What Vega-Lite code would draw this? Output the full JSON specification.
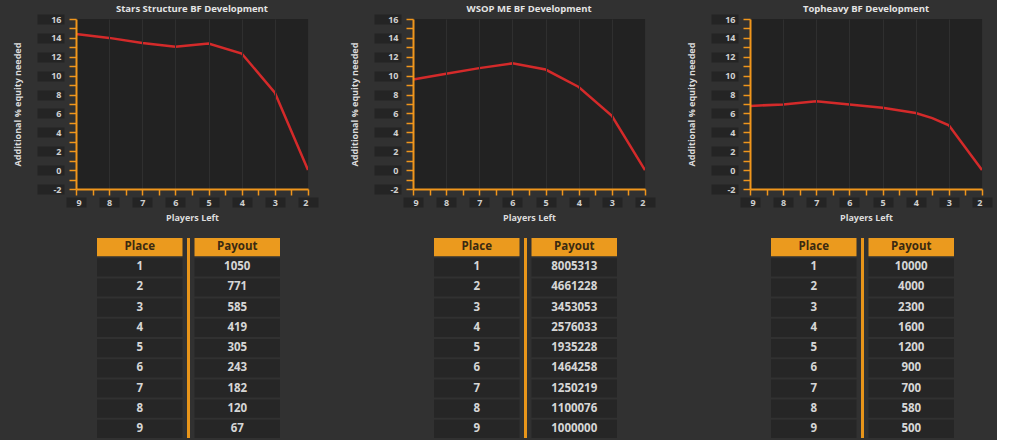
{
  "$schema": "https://vega.github.io/schema/vega-lite/v6.json",
  "background": "#313131",
  "padding": {"left": 13, "top": 3, "right": 5, "bottom": 0},
  "config": {
    "font": "Open Sans",
    "axis": {"labelFont": "Open Sans", "labelFontSize": 9, "labelFontWeight": "bold", "labelColor": "#d0d0d0", "titleFont": "Open Sans", "titleFontSize": 9, "titleFontWeight": "bold", "titleColor": "#dcdcdc", "domainColor": "#f0961c", "tickColor": "#f0961c", "gridColor": "#2f2f2f", "domainWidth": 2, "tickWidth": 1.5, "labelOverlap": false}
  },
  "datasets": {
    "lines": [
      {"chart": "stars", "players": 9, "value": 14.4},
      {"chart": "stars", "players": 8, "value": 14.0},
      {"chart": "stars", "players": 7, "value": 13.45},
      {"chart": "stars", "players": 6, "value": 13.05},
      {"chart": "stars", "players": 5, "value": 13.4},
      {"chart": "stars", "players": 4, "value": 12.35},
      {"chart": "stars", "players": 3, "value": 8.2},
      {"chart": "stars", "players": 2, "value": 0},
      {"chart": "wsop", "players": 9, "value": 9.6},
      {"chart": "wsop", "players": 8, "value": 10.2},
      {"chart": "wsop", "players": 7, "value": 10.8},
      {"chart": "wsop", "players": 6, "value": 11.3},
      {"chart": "wsop", "players": 5, "value": 10.65},
      {"chart": "wsop", "players": 4, "value": 8.8},
      {"chart": "wsop", "players": 3, "value": 5.75},
      {"chart": "wsop", "players": 2, "value": 0},
      {"chart": "top", "players": 9, "value": 6.8},
      {"chart": "top", "players": 8, "value": 6.95},
      {"chart": "top", "players": 7, "value": 7.3},
      {"chart": "top", "players": 6, "value": 6.95},
      {"chart": "top", "players": 5, "value": 6.6},
      {"chart": "top", "players": 4, "value": 6.05},
      {"chart": "top", "players": 3.5, "value": 5.5},
      {"chart": "top", "players": 3, "value": 4.75},
      {"chart": "top", "players": 2, "value": 0}
    ],
    "pay": [
      {"table": "stars", "row": "head", "Place": "Place", "Payout": "Payout"},
      {"table": "stars", "row": "1", "Place": "1", "Payout": "1050"},
      {"table": "stars", "row": "2", "Place": "2", "Payout": "771"},
      {"table": "stars", "row": "3", "Place": "3", "Payout": "585"},
      {"table": "stars", "row": "4", "Place": "4", "Payout": "419"},
      {"table": "stars", "row": "5", "Place": "5", "Payout": "305"},
      {"table": "stars", "row": "6", "Place": "6", "Payout": "243"},
      {"table": "stars", "row": "7", "Place": "7", "Payout": "182"},
      {"table": "stars", "row": "8", "Place": "8", "Payout": "120"},
      {"table": "stars", "row": "9", "Place": "9", "Payout": "67"},
      {"table": "wsop", "row": "head", "Place": "Place", "Payout": "Payout"},
      {"table": "wsop", "row": "1", "Place": "1", "Payout": "8005313"},
      {"table": "wsop", "row": "2", "Place": "2", "Payout": "4661228"},
      {"table": "wsop", "row": "3", "Place": "3", "Payout": "3453053"},
      {"table": "wsop", "row": "4", "Place": "4", "Payout": "2576033"},
      {"table": "wsop", "row": "5", "Place": "5", "Payout": "1935228"},
      {"table": "wsop", "row": "6", "Place": "6", "Payout": "1464258"},
      {"table": "wsop", "row": "7", "Place": "7", "Payout": "1250219"},
      {"table": "wsop", "row": "8", "Place": "8", "Payout": "1100076"},
      {"table": "wsop", "row": "9", "Place": "9", "Payout": "1000000"},
      {"table": "top", "row": "head", "Place": "Place", "Payout": "Payout"},
      {"table": "top", "row": "1", "Place": "1", "Payout": "10000"},
      {"table": "top", "row": "2", "Place": "2", "Payout": "4000"},
      {"table": "top", "row": "3", "Place": "3", "Payout": "2300"},
      {"table": "top", "row": "4", "Place": "4", "Payout": "1600"},
      {"table": "top", "row": "5", "Place": "5", "Payout": "1200"},
      {"table": "top", "row": "6", "Place": "6", "Payout": "900"},
      {"table": "top", "row": "7", "Place": "7", "Payout": "700"},
      {"table": "top", "row": "8", "Place": "8", "Payout": "580"},
      {"table": "top", "row": "9", "Place": "9", "Payout": "500"}
    ]
  },
  "columns": 3,
  "spacing": {"row": 49, "column": 105},
  "bounds": "flush",
  "concat": [
    {
      "width": 232, "height": 170,
      "view": {"fill": "#222222", "stroke": null},
      "title": {"text": "Stars Structure BF Development", "frame": "group", "anchor": "middle", "fontSize": 9.5, "fontWeight": "bold", "color": "#e4e4e4", "offset": 1, "font": "Open Sans"},
      "data": {"name": "lines"},
      "transform": [{"filter": "datum.chart === 'stars'"}],
      "layer": [
        {
          "mark": {"type": "line", "opacity": 0},
          "encoding": {
            "x": {"field": "players", "type": "quantitative", "scale": {"domain": [2, 9], "reverse": true, "nice": false, "zero": false},
              "axis": {"orient": "bottom", "values": [2, 3, 4, 5, 6, 7, 8, 9], "offset": 8, "domain": false, "labels": false, "grid": false, "tickSize": 10, "tickWidth": 20, "tickColor": "#242424", "title": null, "zindex": 0}},
            "y": {"field": "value", "type": "quantitative", "scale": {"domain": [-2, 16], "nice": false, "zero": false},
              "axis": {"orient": "left", "values": [-2, 0, 2, 4, 6, 8, 10, 12, 14, 16], "offset": 12, "domain": false, "labels": false, "grid": false, "tickSize": 27, "tickWidth": 10, "tickColor": "#242424", "title": null, "zindex": 0}}
          }
        },
        {
          "mark": {"type": "line", "color": "#d42a2a", "strokeWidth": 2.5},
          "encoding": {
            "x": {"field": "players", "type": "quantitative",
              "axis": {"orient": "bottom", "values": [2, 2.5, 3, 3.5, 4, 4.5, 5, 5.5, 6, 6.5, 7, 7.5, 8, 8.5, 9], "labelExpr": "datum.value % 1 === 0 ? '' + datum.value : ''", "tickSize": 6, "labelPadding": 7, "labelBaseline": "middle", "grid": true, "gridOpacity": {"condition": {"test": "datum.value % 1 === 0", "value": 1}, "value": 0}, "title": "Players Left", "titlePadding": 6, "zindex": 1}},
            "y": {"field": "value", "type": "quantitative",
              "axis": {"orient": "left", "values": [-2, -1, 0, 1, 2, 3, 4, 5, 6, 7, 8, 9, 10, 11, 12, 13, 14, 15, 16], "labelExpr": "datum.value % 2 === 0 ? '' + datum.value : ''", "tickSize": 7, "labelPadding": 8, "grid": false, "title": "Additional % equity needed", "titlePadding": 28, "zindex": 1}}
          }
        }
      ],
      "resolve": {"axis": {"x": "independent", "y": "independent"}}
    },
    {
      "width": 232, "height": 170,
      "view": {"fill": "#222222", "stroke": null},
      "title": {"text": "WSOP ME BF Development", "frame": "group", "anchor": "middle", "fontSize": 9.5, "fontWeight": "bold", "color": "#e4e4e4", "offset": 1, "font": "Open Sans"},
      "data": {"name": "lines"},
      "transform": [{"filter": "datum.chart === 'wsop'"}],
      "layer": [
        {
          "mark": {"type": "line", "opacity": 0},
          "encoding": {
            "x": {"field": "players", "type": "quantitative", "scale": {"domain": [2, 9], "reverse": true, "nice": false, "zero": false},
              "axis": {"orient": "bottom", "values": [2, 3, 4, 5, 6, 7, 8, 9], "offset": 8, "domain": false, "labels": false, "grid": false, "tickSize": 10, "tickWidth": 20, "tickColor": "#242424", "title": null, "zindex": 0}},
            "y": {"field": "value", "type": "quantitative", "scale": {"domain": [-2, 16], "nice": false, "zero": false},
              "axis": {"orient": "left", "values": [-2, 0, 2, 4, 6, 8, 10, 12, 14, 16], "offset": 12, "domain": false, "labels": false, "grid": false, "tickSize": 27, "tickWidth": 10, "tickColor": "#242424", "title": null, "zindex": 0}}
          }
        },
        {
          "mark": {"type": "line", "color": "#d42a2a", "strokeWidth": 2.5},
          "encoding": {
            "x": {"field": "players", "type": "quantitative",
              "axis": {"orient": "bottom", "values": [2, 2.5, 3, 3.5, 4, 4.5, 5, 5.5, 6, 6.5, 7, 7.5, 8, 8.5, 9], "labelExpr": "datum.value % 1 === 0 ? '' + datum.value : ''", "tickSize": 6, "labelPadding": 7, "labelBaseline": "middle", "grid": true, "gridOpacity": {"condition": {"test": "datum.value % 1 === 0", "value": 1}, "value": 0}, "title": "Players Left", "titlePadding": 6, "zindex": 1}},
            "y": {"field": "value", "type": "quantitative",
              "axis": {"orient": "left", "values": [-2, -1, 0, 1, 2, 3, 4, 5, 6, 7, 8, 9, 10, 11, 12, 13, 14, 15, 16], "labelExpr": "datum.value % 2 === 0 ? '' + datum.value : ''", "tickSize": 7, "labelPadding": 8, "grid": false, "title": "Additional % equity needed", "titlePadding": 28, "zindex": 1}}
          }
        }
      ],
      "resolve": {"axis": {"x": "independent", "y": "independent"}}
    },
    {
      "width": 232, "height": 170,
      "view": {"fill": "#222222", "stroke": null},
      "title": {"text": "Topheavy BF Development", "frame": "group", "anchor": "middle", "fontSize": 9.5, "fontWeight": "bold", "color": "#e4e4e4", "offset": 1, "font": "Open Sans"},
      "data": {"name": "lines"},
      "transform": [{"filter": "datum.chart === 'top'"}],
      "layer": [
        {
          "mark": {"type": "line", "opacity": 0},
          "encoding": {
            "x": {"field": "players", "type": "quantitative", "scale": {"domain": [2, 9], "reverse": true, "nice": false, "zero": false},
              "axis": {"orient": "bottom", "values": [2, 3, 4, 5, 6, 7, 8, 9], "offset": 8, "domain": false, "labels": false, "grid": false, "tickSize": 10, "tickWidth": 20, "tickColor": "#242424", "title": null, "zindex": 0}},
            "y": {"field": "value", "type": "quantitative", "scale": {"domain": [-2, 16], "nice": false, "zero": false},
              "axis": {"orient": "left", "values": [-2, 0, 2, 4, 6, 8, 10, 12, 14, 16], "offset": 12, "domain": false, "labels": false, "grid": false, "tickSize": 27, "tickWidth": 10, "tickColor": "#242424", "title": null, "zindex": 0}}
          }
        },
        {
          "mark": {"type": "line", "color": "#d42a2a", "strokeWidth": 2.5},
          "encoding": {
            "x": {"field": "players", "type": "quantitative",
              "axis": {"orient": "bottom", "values": [2, 2.5, 3, 3.5, 4, 4.5, 5, 5.5, 6, 6.5, 7, 7.5, 8, 8.5, 9], "labelExpr": "datum.value % 1 === 0 ? '' + datum.value : ''", "tickSize": 6, "labelPadding": 7, "labelBaseline": "middle", "grid": true, "gridOpacity": {"condition": {"test": "datum.value % 1 === 0", "value": 1}, "value": 0}, "title": "Players Left", "titlePadding": 6, "zindex": 1}},
            "y": {"field": "value", "type": "quantitative",
              "axis": {"orient": "left", "values": [-2, -1, 0, 1, 2, 3, 4, 5, 6, 7, 8, 9, 10, 11, 12, 13, 14, 15, 16], "labelExpr": "datum.value % 2 === 0 ? '' + datum.value : ''", "tickSize": 7, "labelPadding": 8, "grid": false, "title": "Additional % equity needed", "titlePadding": 28, "zindex": 1}}
          }
        }
      ],
      "resolve": {"axis": {"x": "independent", "y": "independent"}}
    },
    {
      "width": 232, "height": 200,
      "view": {"fill": null, "stroke": null},
      "data": {"name": "pay"},
      "transform": [{"filter": "datum.table === 'stars'"}, {"fold": ["Place", "Payout"], "as": ["col", "text"]}],
      "encoding": {
        "x": {"field": "col", "type": "nominal", "scale": {"domain": ["Place", "Payout"], "paddingInner": 0.123, "paddingOuter": 0.2513, "align": 0.4286}, "axis": null},
        "y": {"field": "row", "type": "ordinal", "scale": {"domain": ["head", "1", "2", "3", "4", "5", "6", "7", "8", "9"], "paddingInner": 0.1, "paddingOuter": 0}, "axis": null}
      },
      "layer": [
        {"mark": {"type": "rect"}, "encoding": {"color": {"condition": {"test": "datum.row === 'head'", "value": "#eb9a1e"}, "value": "#262626"}}},
        {"mark": {"type": "text", "font": "Open Sans", "fontSize": 11.5, "fontWeight": "bold"}, "encoding": {"text": {"field": "text"}, "color": {"condition": {"test": "datum.row === 'head'", "value": "#3a2a12"}, "value": "#d6d6d6"}}},
        {"transform": [{"filter": "datum.row === 'head' && datum.col === 'Payout'"}], "mark": {"type": "rule", "color": "#e8951a", "strokeWidth": 3, "xOffset": -6}, "encoding": {"x": {"field": "col", "type": "nominal", "bandPosition": 0}, "y": null}}
      ]
    },
    {
      "width": 232, "height": 200,
      "view": {"fill": null, "stroke": null},
      "data": {"name": "pay"},
      "transform": [{"filter": "datum.table === 'wsop'"}, {"fold": ["Place", "Payout"], "as": ["col", "text"]}],
      "encoding": {
        "x": {"field": "col", "type": "nominal", "scale": {"domain": ["Place", "Payout"], "paddingInner": 0.123, "paddingOuter": 0.2513, "align": 0.4286}, "axis": null},
        "y": {"field": "row", "type": "ordinal", "scale": {"domain": ["head", "1", "2", "3", "4", "5", "6", "7", "8", "9"], "paddingInner": 0.1, "paddingOuter": 0}, "axis": null}
      },
      "layer": [
        {"mark": {"type": "rect"}, "encoding": {"color": {"condition": {"test": "datum.row === 'head'", "value": "#eb9a1e"}, "value": "#262626"}}},
        {"mark": {"type": "text", "font": "Open Sans", "fontSize": 11.5, "fontWeight": "bold"}, "encoding": {"text": {"field": "text"}, "color": {"condition": {"test": "datum.row === 'head'", "value": "#3a2a12"}, "value": "#d6d6d6"}}},
        {"transform": [{"filter": "datum.row === 'head' && datum.col === 'Payout'"}], "mark": {"type": "rule", "color": "#e8951a", "strokeWidth": 3, "xOffset": -6}, "encoding": {"x": {"field": "col", "type": "nominal", "bandPosition": 0}, "y": null}}
      ]
    },
    {
      "width": 232, "height": 200,
      "view": {"fill": null, "stroke": null},
      "data": {"name": "pay"},
      "transform": [{"filter": "datum.table === 'top'"}, {"fold": ["Place", "Payout"], "as": ["col", "text"]}],
      "encoding": {
        "x": {"field": "col", "type": "nominal", "scale": {"domain": ["Place", "Payout"], "paddingInner": 0.123, "paddingOuter": 0.2513, "align": 0.4286}, "axis": null},
        "y": {"field": "row", "type": "ordinal", "scale": {"domain": ["head", "1", "2", "3", "4", "5", "6", "7", "8", "9"], "paddingInner": 0.1, "paddingOuter": 0}, "axis": null}
      },
      "layer": [
        {"mark": {"type": "rect"}, "encoding": {"color": {"condition": {"test": "datum.row === 'head'", "value": "#eb9a1e"}, "value": "#262626"}}},
        {"mark": {"type": "text", "font": "Open Sans", "fontSize": 11.5, "fontWeight": "bold"}, "encoding": {"text": {"field": "text"}, "color": {"condition": {"test": "datum.row === 'head'", "value": "#3a2a12"}, "value": "#d6d6d6"}}},
        {"transform": [{"filter": "datum.row === 'head' && datum.col === 'Payout'"}], "mark": {"type": "rule", "color": "#e8951a", "strokeWidth": 3, "xOffset": -6}, "encoding": {"x": {"field": "col", "type": "nominal", "bandPosition": 0}, "y": null}}
      ]
    }
  ]
}
